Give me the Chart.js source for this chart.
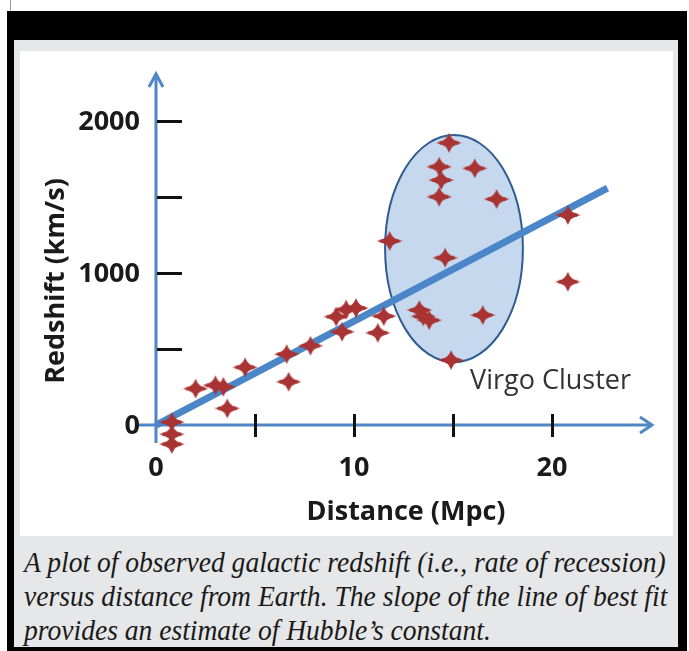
<!DOCTYPE html>
<html>
<head>
<meta charset="utf-8">
<title>Hubble plot</title>
<script src="https://cdn.jsdelivr.net/npm/chart.js@4.4.1/dist/chart.umd.min.js"></script>
<style>
  html, body { margin: 0; padding: 0; background: #fff; }
  body { position: relative; width: 689px; height: 651px; overflow: hidden; }
  .topline { position: absolute; left: 10px; top: 0; width: 1px; height: 11px; background: #999; }
  .frame { position: absolute; left: 7px; top: 11px; width: 680px; height: 645px; background: #000; }
  .gray { position: absolute; left: 14px; top: 40px; width: 664px; height: 607px; background: #e6e7e8; }
  .panel { position: absolute; left: 20px; top: 51px; width: 653px; height: 485px; background: #fff; }
  .caption {
    position: absolute; left: 24px; top: 545px; width: 700px;
    font-family: "Liberation Serif", "DejaVu Serif", serif; font-style: italic;
    font-size: 29px; line-height: 34px; color: #1a1a1a; white-space: nowrap;
    transform: scaleX(0.95); transform-origin: left top;
  }
  #chart { position: absolute; left: 0; top: 0; }
</style>
</head>
<body>
<div class="topline"></div>
<div class="frame"></div>
<div class="gray"></div>
<div class="panel"></div>
<div class="caption">A plot of observed galactic redshift (i.e., rate of recession)<br>versus distance from Earth. The slope of the line of best fit<br>provides an estimate of Hubble’s constant.</div>
<canvas id="chart" width="689" height="651"></canvas>
<script>
// galaxies: distance (Mpc) and redshift (km/s)
const DISTANCE = [0.8, 0.8, 0.8, 2.0, 3.0, 3.4, 3.6, 4.5, 6.6, 6.7, 7.8, 9.1, 9.6, 10.1, 9.4, 11.5,
                  11.2, 11.8, 14.8, 14.3, 14.4, 16.1, 14.3, 17.2, 14.6, 20.8, 20.8, 13.3, 13.5, 13.8, 16.5, 14.9];
const REDSHIFT = [20, -60, -125, 240, 262, 252, 110, 380, 467, 285, 522, 713, 760, 770, 614, 717,
                  607, 1211, 1857, 1700, 1612, 1689, 1502, 1487, 1101, 1382, 943, 757, 715, 690, 724, 428];

// best fit line end points
const FIT_X = [0, 22.8];
const FIT_Y = [0, 1559];

// tick values
const X_TICKS = [5, 10, 15, 20];
const X_LABELS = [0, 10, 20];
const Y_TICKS = [500, 1000, 1500, 2000];
const Y_LABELS = [0, 1000, 2000];

// Virgo cluster ellipse (centre and half-widths, in data units)
const VIRGO_CENTER = [15.05, 1161];
const VIRGO_RADIUS = [3.48, 747];
const VIRGO_LABEL_AT = [15.86, 290];

const AXIS_BLUE = '#4f86c6';
const POINT_RED = '#a93434';
const LABEL_FONT = 'bold 27px "Open Sans", sans-serif';

// thin four-pointed star used for the galaxy markers
function makeStar() {
    const c = document.createElement('canvas');
    c.width = 28; c.height = 24;
    const g = c.getContext('2d');
    const cx = 14, cy = 12;
    g.fillStyle = POINT_RED;
    g.beginPath();
    g.moveTo(cx - 13, cy);
    g.quadraticCurveTo(cx - 2, cy - 2, cx, cy - 10);
    g.quadraticCurveTo(cx + 2, cy - 2, cx + 13, cy);
    g.quadraticCurveTo(cx + 2, cy + 2, cx, cy + 10);
    g.quadraticCurveTo(cx - 2, cy + 2, cx - 13, cy);
    g.closePath();
    g.fill();
    // small bulges near the arm tips
    g.beginPath();
    g.ellipse(cx - 7, cy, 3, 2, 0, 0, Math.PI * 2);
    g.ellipse(cx + 7, cy, 3, 2, 0, 0, Math.PI * 2);
    g.fill();
    g.beginPath();
    g.ellipse(cx, cy - 5, 2, 2.5, 0, 0, Math.PI * 2);
    g.ellipse(cx, cy + 5, 2, 2.5, 0, 0, Math.PI * 2);
    g.fill();
    return c;
}

const hubblePlugin = {
    id: 'hubbleAxes',
    beforeDatasetsDraw(chart) {
        const { ctx, chartArea, scales: { x, y } } = chart;
        ctx.save();

        // Virgo ellipse
        const cx = x.getPixelForValue(VIRGO_CENTER[0]);
        const cy = y.getPixelForValue(VIRGO_CENTER[1]);
        const rx = Math.abs(x.getPixelForValue(VIRGO_CENTER[0] + VIRGO_RADIUS[0]) - cx);
        const ry = Math.abs(y.getPixelForValue(VIRGO_CENTER[1] + VIRGO_RADIUS[1]) - cy);
        ctx.beginPath();
        ctx.ellipse(cx, cy, rx, ry, 0, 0, Math.PI * 2);
        ctx.fillStyle = '#c6d8ee';
        ctx.fill();
        ctx.lineWidth = 2;
        ctx.strokeStyle = '#2f5c90';
        ctx.stroke();

        // axes with arrow heads
        const x0 = x.getPixelForValue(0);
        const y0 = y.getPixelForValue(0);
        ctx.strokeStyle = AXIS_BLUE;
        ctx.lineWidth = 3;
        ctx.lineCap = 'butt';
        ctx.beginPath();
        ctx.moveTo(x0, chartArea.bottom);
        ctx.lineTo(x0, chartArea.top + 1);
        ctx.moveTo(chartArea.left, y0);
        ctx.lineTo(chartArea.right - 1, y0);
        ctx.stroke();
        ctx.lineJoin = 'miter';
        ctx.beginPath();
        ctx.moveTo(x0 - 7, chartArea.top + 14);
        ctx.lineTo(x0, chartArea.top + 1);
        ctx.lineTo(x0 + 7, chartArea.top + 14);
        ctx.moveTo(chartArea.right - 13, y0 - 8);
        ctx.lineTo(chartArea.right - 1, y0);
        ctx.lineTo(chartArea.right - 13, y0 + 8);
        ctx.stroke();

        // tick marks
        ctx.strokeStyle = '#111';
        ctx.lineWidth = 3;
        ctx.beginPath();
        Y_TICKS.forEach(v => {
            const py = Math.round(y.getPixelForValue(v)) + 0.5;
            ctx.moveTo(x0 + 1, py);
            ctx.lineTo(x0 + 26, py);
        });
        X_TICKS.forEach(v => {
            const px = Math.round(x.getPixelForValue(v)) + 0.5;
            ctx.moveTo(px, y0 - 11);
            ctx.lineTo(px, y0 + 12);
        });
        ctx.stroke();

        // tick labels
        ctx.fillStyle = '#1a1a1a';
        ctx.font = LABEL_FONT;
        ctx.textAlign = 'right';
        ctx.textBaseline = 'middle';
        Y_LABELS.forEach(v => ctx.fillText(String(v), x0 - 16, y.getPixelForValue(v) + 1));
        ctx.textAlign = 'center';
        X_LABELS.forEach(v => ctx.fillText(String(v), x.getPixelForValue(v), y0 + 43));

        // axis titles
        ctx.font = 'bold 27px "Open Sans", sans-serif';
        ctx.fillText('Distance (Mpc)', 406, 512);
        ctx.save();
        ctx.translate(56, 281);
        ctx.rotate(-Math.PI / 2);
        ctx.fillText('Redshift (km/s)', 0, 0);
        ctx.restore();

        // cluster label
        ctx.font = '400 27px "Open Sans", sans-serif';
        ctx.fillStyle = '#333';
        ctx.textAlign = 'left';
        ctx.fillText('Virgo Cluster', x.getPixelForValue(VIRGO_LABEL_AT[0]), y.getPixelForValue(VIRGO_LABEL_AT[1]));

        ctx.restore();
    }
};

const points = DISTANCE.map((d, i) => ({ x: d, y: REDSHIFT[i] }));
const fit = FIT_X.map((d, i) => ({ x: d, y: FIT_Y[i] }));

new Chart(document.getElementById('chart').getContext('2d'), {
    type: 'scatter',
    data: {
        datasets: [
            {
                type: 'line',
                data: fit,
                borderColor: '#4a86c8',
                borderWidth: 7,
                borderCapStyle: 'butt',
                pointRadius: 0,
                fill: false,
                clip: false,
                order: 2
            },
            {
                data: points,
                pointStyle: makeStar(),
                pointRadius: 12,
                clip: false,
                order: 1
            }
        ]
    },
    options: {
        responsive: false,
        devicePixelRatio: 1,
        animation: false,
        layout: { padding: { left: 135, right: 36, top: 73, bottom: 208 } },
        plugins: { legend: { display: false }, tooltip: { enabled: false } },
        scales: {
            x: { type: 'linear', display: false, min: -1.06, max: 25.1 },
            y: { type: 'linear', display: false, min: -118, max: 2316 }
        }
    },
    plugins: [hubblePlugin]
});
</script>
</body>
</html>
